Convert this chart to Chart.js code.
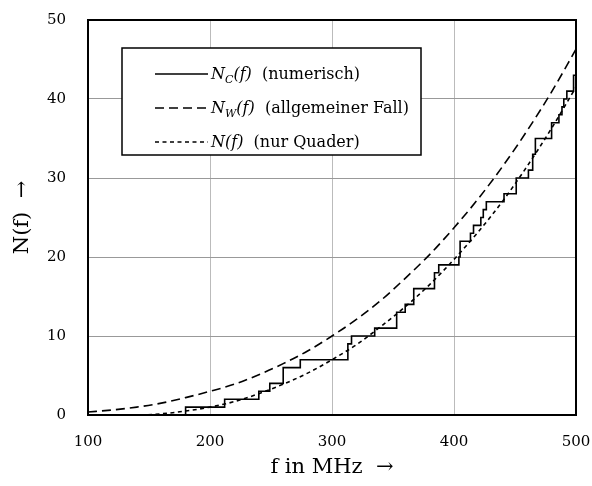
<!DOCTYPE html>
<html>
<head>
<meta charset="utf-8">
<script src="https://cdn.jsdelivr.net/npm/chart.js@4"></script>
<style>
  html, body { margin: 0; padding: 0; background: #fff; }
</style>
</head>
<body>
<canvas id="c" width="592" height="486"></canvas>
<script>
// ── Daten ──
const curveFreq = [100, 120, 140, 160, 180, 200, 220, 240, 260, 280, 300, 320, 340, 360, 380, 400, 420, 440, 460, 480, 500];
const nWeyl     = [0.37, 0.64, 1.0, 1.5, 2.2, 3.0, 3.9, 5.1, 6.5, 8.1, 10.0, 12.1, 14.5, 17.3, 20.3, 23.7, 27.4, 31.5, 36.0, 40.9, 46.3];
const nQuader   = [0, 0, 0, 0.15, 0.5, 1.0, 1.7, 2.7, 3.9, 5.3, 7.0, 8.9, 11.2, 13.7, 16.5, 19.7, 23.2, 27.1, 31.5, 36.3, 41.5];

// Treppenfunktion: Anzahl ab Frequenz
const stepFreq  = [100, 180, 212, 240, 249, 260, 274, 313, 316, 335, 353, 360, 367, 384, 387.5, 404, 405, 413.5, 416, 422, 424, 426.5, 441, 451, 461, 464.5, 466.7, 480, 486, 488.5, 490, 492.5, 498, 500];
const stepCount = [0, 1, 2, 3, 4, 6, 7, 9, 10, 11, 13, 14, 16, 18, 19, 20, 22, 23, 24, 25, 26, 27, 28, 30, 31, 33, 35, 37, 38, 39, 40, 41, 43, 44];

const xTicks = [100, 200, 300, 400, 500];
const yTicks = [0, 10, 20, 30, 40, 50];

const SERIF = "'DejaVu Serif', serif";

const toPoints = (xs, ys) => xs.map((x, i) => ({ x: x, y: ys[i] }));

// ── Legende mit Indizes (von Hand gezeichnet) ──
const legendRows = [
  { dash: [], parts: [{ t: 'N', it: true }, { t: 'C', it: true, sub: true }, { t: '(f)', it: true }, { t: '  (numerisch)' }] },
  { dash: [9, 5], parts: [{ t: 'N', it: true }, { t: 'W', it: true, sub: true }, { t: '(f)', it: true }, { t: '  (allgemeiner Fall)' }] },
  { dash: [4, 3.5], parts: [{ t: 'N(f)', it: true }, { t: '  (nur Quader)' }] }
];

const legendBox = {
  id: 'legendBox',
  afterDatasetsDraw(chart) {
    const ctx = chart.ctx;
    ctx.save();
    ctx.fillStyle = '#fff';
    ctx.fillRect(122, 48, 299, 107);
    ctx.strokeStyle = '#000';
    ctx.lineWidth = 1.5;
    ctx.strokeRect(122, 48, 299, 107);

    legendRows.forEach((row, i) => {
      const y = 74 + i * 34;
      ctx.setLineDash(row.dash);
      ctx.lineWidth = 1.5;
      ctx.beginPath();
      ctx.moveTo(155, y);
      ctx.lineTo(208, y);
      ctx.stroke();
      ctx.setLineDash([]);

      let x = 211;
      ctx.fillStyle = '#000';
      ctx.textBaseline = 'alphabetic';
      row.parts.forEach(p => {
        const size = p.sub ? 11 : 16;
        ctx.font = (p.it ? 'italic ' : '') + size + 'px ' + SERIF;
        ctx.fillText(p.t, x, y + 5 + (p.sub ? 4 : 0));
        x += ctx.measureText(p.t).width;
      });
    });
    ctx.restore();
  }
};

// ── Rahmen um die Zeichenfläche ──
const frame = {
  id: 'frame',
  afterDraw(chart) {
    const a = chart.chartArea;
    const ctx = chart.ctx;
    ctx.save();
    ctx.strokeStyle = '#000';
    ctx.lineWidth = 2;
    ctx.strokeRect(a.left, a.top, a.right - a.left, a.bottom - a.top);
    ctx.restore();
  }
};

new Chart(document.getElementById('c'), {
  type: 'line',
  data: {
    datasets: [
      {
        label: 'N_C(f)',
        data: toPoints(stepFreq, stepCount),
        stepped: true,
        borderColor: '#000',
        borderWidth: 1.6,
        pointRadius: 0,
        fill: false
      },
      {
        label: 'N_W(f)',
        data: toPoints(curveFreq, nWeyl),
        borderColor: '#000',
        borderWidth: 1.6,
        borderDash: [9, 5],
        cubicInterpolationMode: 'monotone',
        pointRadius: 0,
        fill: false
      },
      {
        label: 'N(f)',
        data: toPoints(curveFreq, nQuader),
        borderColor: '#000',
        borderWidth: 1.6,
        borderDash: [4, 3.5],
        cubicInterpolationMode: 'monotone',
        pointRadius: 0,
        fill: false
      }
    ]
  },
  options: {
    responsive: false,
    animation: false,
    layout: { padding: { top: 20, right: 16, left: 0, bottom: 0 } },
    plugins: {
      legend: { display: false },
      tooltip: { enabled: false }
    },
    scales: {
      x: {
        type: 'linear',
        min: 100,
        max: 500,
        afterFit: s => { s.height = 71; s.paddingLeft = 0; s.paddingRight = 0; },
        afterBuildTicks: s => { s.ticks = xTicks.map(v => ({ value: v })); },
        grid: { color: '#bbb', lineWidth: 1, drawTicks: false },
        border: { display: false },
        ticks: { color: '#000', padding: 18, font: { family: SERIF, size: 15 } },
        title: {
          display: true,
          text: 'f in MHz  →',
          color: '#000',
          font: { family: SERIF, size: 21 },
          padding: { top: 0, bottom: 6 }
        }
      },
      y: {
        min: 0,
        max: 50,
        afterFit: s => { s.width = 88; s.paddingTop = 0; s.paddingBottom = 0; },
        afterBuildTicks: s => { s.ticks = yTicks.map(v => ({ value: v })); },
        grid: { color: '#999', lineWidth: 1, drawTicks: false },
        border: { display: false },
        ticks: { color: '#000', padding: 22, font: { family: SERIF, size: 15 } },
        title: {
          display: true,
          text: 'N(f)  →',
          color: '#000',
          font: { family: SERIF, size: 21 },
          padding: { top: 10, bottom: 0 }
        }
      }
    }
  },
  plugins: [legendBox, frame]
});
</script>
</body>
</html>
